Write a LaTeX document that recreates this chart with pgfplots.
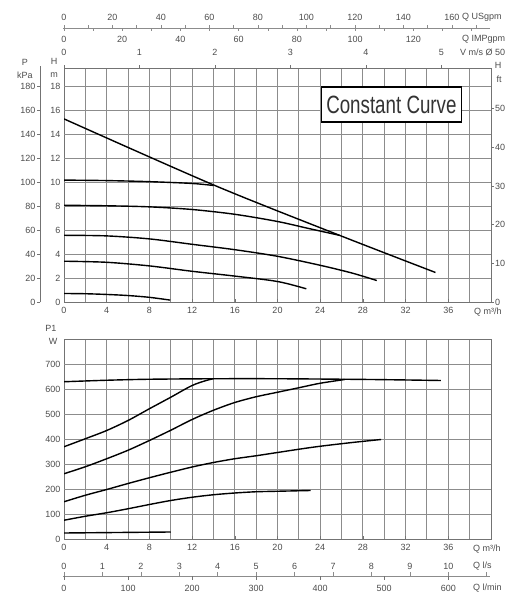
\documentclass[border=0pt]{standalone}
\usepackage{fontspec}
\setmainfont{Liberation Sans}
\usepackage{graphicx}
\usepackage{pgfplots}
\pgfplotsset{compat=1.18}
\tikzset{gridc/.style={black!45, line width=1pt}}
\pgfplotsset{
  myax/.style={scale only axis, anchor=south west, width=427pt, xmin=0, xmax=40,
    xtick={0,4,...,36}, minor xtick={2,6,...,38},
    xmajorgrids=true, xminorgrids=true, ymajorgrids=true,
    major grid style={gridc},
    minor grid style={gridc},
    axis line style={black!55, line width=0.7pt},
    tick style={black!55, line width=0.6pt},
    tick pos=left,
    major tick length=3pt, minor tick length=0pt,
    tick label style={font=\fontsize{9}{10}\selectfont, text=black!70},
    xticklabel style={yshift=-1.5pt},
    /pgf/number format/assume math mode=true},
  crv/.style={black, line width=1.4pt, smooth, tension=0.5, no markers}
}
\tikzset{lab/.style={font=\fontsize{9}{10}\selectfont, text=black!70, inner sep=0pt}}
\begin{document}
\begin{tikzpicture}
\useasboundingbox (0pt,0pt) rectangle (517pt,596pt);
% ---------- top chart: head ----------
\begin{axis}[myax, at={(64pt,293.5pt)}, height=234pt, ymin=0, ymax=19.5, ytick={0,2,...,18}]
\pgfplotsinvokeforeach{2,4,...,18}{\draw[gridc] (axis cs:0,#1) -- (axis cs:40,#1);}
\addplot[crv] coordinates {(0,15.3)(14,9.8)(25.6,5.67)(34.8,2.5)};
\addplot[crv] coordinates {(0,10.2)(4,10.16)(8,10.07)(12,9.92)(14,9.75)};
\addplot[crv] coordinates {(0,8.1)(4,8.06)(8,7.97)(12,7.75)(16,7.35)(20,6.75)(23,6.15)(25.8,5.6)};
\addplot[crv] coordinates {(0,5.6)(4,5.55)(8,5.3)(12,4.85)(16,4.4)(20,3.85)(24,3.1)(27,2.45)(29.3,1.83)};
\addplot[crv] coordinates {(0,3.44)(4,3.35)(8,3.05)(12,2.6)(16,2.2)(20,1.75)(22.7,1.14)};
\addplot[crv] coordinates {(0,0.75)(2,0.73)(4,0.67)(6,0.58)(8,0.43)(9.95,0.2)};
\end{axis}
% ---------- bottom chart: power ----------
\begin{axis}[myax, at={(64pt,56.5pt)}, height=200pt, ymin=0, ymax=800, ytick={0,100,...,700}]
\pgfplotsinvokeforeach{100,200,...,700}{\draw[gridc] (axis cs:0,#1) -- (axis cs:40,#1);}
\addplot[crv] coordinates {(0,631)(4,637)(8,641)(14,643)(20,643)(28.7,640)(35.3,636)};
\addplot[crv] coordinates {(0,371)(2,403)(4,436)(6,476)(8,523)(10,569)(12,616)(13.4,637)(14,643)};
\addplot[crv] coordinates {(0,263)(2,291)(4,323)(6,357)(8,396)(10,437)(12,480)(14,517)(16,548)(18,571)(20,589)(22,607)(24,625)(26.3,640)};
\addplot[crv] coordinates {(0,151)(2,177)(4,200)(6,224)(8,247)(10,269)(12,290)(14,308)(16,323)(18,335)(20,348)(22,361)(24,373)(27,388)(29.7,400)};
\addplot[crv] coordinates {(0,77)(2,93)(4,107)(6,123)(8,140)(10,156)(12,169)(14,179)(16,186)(18,191)(20,193)(23.1,196)};
\addplot[crv] coordinates {(0,26)(10,30)};
\end{axis}
\begin{scope}[x=1pt,y=1pt]
% ---------- extra scales, top ----------
\foreach \v in {0,20,...,160} \node[lab] at ({64+10.675*0.22712*\v},579) {\v};
\node[lab, anchor=west] at (462,579) {Q USgpm};
\draw[black!45, line width=0.6pt] (63,567.5) -- (490,567.5);
\foreach \v in {0,10,...,170} \draw[black!45, line width=0.5pt] ({64+10.675*0.22712*\v},567.5) -- ++(0,3);
\foreach \v in {0,10,...,140} \draw[black!45, line width=0.5pt] ({64+10.675*0.27277*\v},567.5) -- ++(0,-3);
\foreach \v in {0,20,...,120} \node[lab] at ({64+10.675*0.27277*\v},557) {\v};
\node[lab, anchor=west] at (462,557) {Q IMPgpm};
\foreach \v in {0,...,5} \node[lab] at ({64+10.675*7.0686*\v},544) {\v};
\node[lab, anchor=west] at (460,544) {V m/s Ø 50};
\foreach \v in {0,...,5} \draw[black!55, line width=0.6pt] ({64+10.675*7.0686*\v},527.5) -- ++(0,3);
% P kPa scale
\draw[black!55, line width=0.7pt] (40,293.5) -- (40,530);
\foreach \p in {0,20,...,180} {\draw[black!55, line width=0.6pt] (37,{293.5+1.2*\p}) -- (40,{293.5+1.2*\p});
  \node[lab, anchor=east] at (35.5,{293.5+1.2*\p}) {\p};}
\node[lab] at (25,534) {P};
\node[lab] at (25,521) {kPa};
\node[lab] at (54,535) {H};
\node[lab] at (54,521) {m};
% ft scale
\foreach \f in {0,10,...,50} {\draw[black!55, line width=0.6pt] (491,{293.5+3.885*\f}) -- (494,{293.5+3.885*\f});
  \node[lab, anchor=west] at (495,{293.5+3.885*\f}) {\f};}
\node[lab] at (498,531) {H};
\node[lab] at (499,517) {ft};
\node[lab, anchor=west] at (474,284) {Q m³/h};
% ---------- extra scales, bottom ----------
\node[lab] at (51,268) {P1};
\node[lab] at (53,255) {W};
\node[lab, anchor=west] at (473,47) {Q m³/h};
\foreach \v in {0,...,10} \node[lab] at ({64+10.675*3.6*\v},30) {\v};
\node[lab, anchor=west] at (473,30) {Q l/s};
\draw[black!45, line width=0.6pt] (63,19.5) -- (490,19.5);
\foreach \v in {0,...,11} \draw[black!45, line width=0.5pt] ({64+10.675*3.6*\v},19.5) -- ++(0,4);
\foreach \v in {0,100,...,600} \draw[black!55, line width=0.6pt] ({64+10.675*0.06*\v},19.5) -- ++(0,-4);
\foreach \v in {0,100,...,600} \node[lab] at ({64+10.675*0.06*\v},8) {\v};
\node[lab, anchor=west] at (473,8) {Q l/min};
% ---------- label box ----------
\node[draw=black, fill=white, line width=1.8pt, minimum width=140pt, minimum height=35pt, inner sep=0pt, text=black!80]
  at (391.4,491.5) {\fontsize{25}{25}\selectfont\scalebox{0.75}[1]{Constant Curve}};
\end{scope}
\end{tikzpicture}
\end{document}
